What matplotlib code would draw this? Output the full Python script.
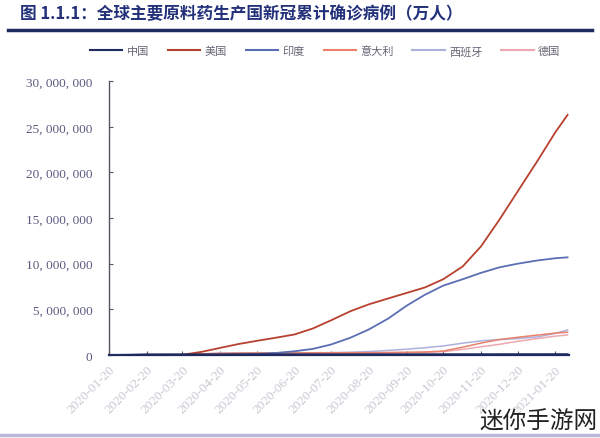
import matplotlib
matplotlib.use("Agg")
import matplotlib.pyplot as plt
import matplotlib.ticker as mticker
import pandas as pd
from matplotlib.lines import Line2D

plt.rcParams['font.family'] = ['Noto Sans CJK SC', 'DejaVu Sans']

dates = ['2020-01-20', '2020-02-05', '2020-02-20', '2020-03-05', '2020-03-20',
         '2020-04-05', '2020-04-20', '2020-05-05', '2020-05-20', '2020-06-05',
         '2020-06-20', '2020-07-05', '2020-07-20', '2020-08-05', '2020-08-20',
         '2020-09-05', '2020-09-20', '2020-10-05', '2020-10-20', '2020-11-05',
         '2020-11-20', '2020-12-05', '2020-12-20', '2021-01-05', '2021-01-20',
         '2021-01-30']

# values in millions
china = [0.0003, 0.028, 0.075, 0.080, 0.081, 0.082, 0.084, 0.084, 0.084, 0.084,
         0.084, 0.085, 0.085, 0.088, 0.089, 0.090, 0.090, 0.091, 0.091, 0.092,
         0.092, 0.093, 0.095, 0.096, 0.098, 0.099]
usa = [0.0, 0.0, 0.0, 0.0, 0.02, 0.35, 0.78, 1.2, 1.55, 1.9,
       2.25, 2.9, 3.8, 4.8, 5.55, 6.2, 6.8, 7.4, 8.3, 9.7,
       11.9, 14.8, 17.9, 21.2, 24.4, 26.3]
india = [0.0, 0.0, 0.0, 0.0, 0.0, 0.003, 0.018, 0.05, 0.11, 0.23,
         0.41, 0.67, 1.15, 1.9, 2.8, 4.0, 5.4, 6.6, 7.6, 8.3,
         9.0, 9.6, 10.0, 10.35, 10.6, 10.7]
italy = [0.0, 0.0, 0.0, 0.004, 0.047, 0.128, 0.181, 0.213, 0.227, 0.234,
         0.238, 0.241, 0.244, 0.248, 0.256, 0.276, 0.298, 0.327, 0.434, 0.862,
         1.31, 1.69, 1.94, 2.18, 2.40, 2.50]
spain = [0.0, 0.0, 0.0, 0.0003, 0.025, 0.130, 0.200, 0.220, 0.232, 0.241,
         0.246, 0.251, 0.265, 0.310, 0.380, 0.500, 0.640, 0.800, 0.990, 1.30,
         1.55, 1.70, 1.80, 1.98, 2.37, 2.74]
germany = [0.0, 0.0, 0.0, 0.0003, 0.020, 0.100, 0.146, 0.167, 0.178, 0.184,
           0.190, 0.197, 0.202, 0.212, 0.230, 0.250, 0.272, 0.300, 0.370, 0.620,
           0.900, 1.17, 1.50, 1.80, 2.07, 2.20]

labels = ['中国', '美国', '印度', '意大利', '西班牙', '德国']
colors = ['#1f2a5e', '#b8402f', '#5b6eb3', '#e8806a', '#aeb0dc', '#eda7b0']
series = [china, usa, india, italy, spain, germany]

tick_dates = ['2020-01-20', '2020-02-20', '2020-03-20', '2020-04-20', '2020-05-20',
              '2020-06-20', '2020-07-20', '2020-08-20', '2020-09-20', '2020-10-20',
              '2020-11-20', '2020-12-20', '2021-01-20']
yticks = [0, 5000000, 10000000, 15000000, 20000000, 25000000, 30000000]

title = '图 1.1.1：全球主要原料药生产国新冠累计确诊病例（万人）'

fig = plt.figure(figsize=(6.0, 4.39), dpi=100)
fig.patch.set_facecolor('white')
ax = fig.add_axes([0.1817, 0.189, 0.948 - 0.1817, 0.624])

x = pd.to_datetime(dates)
order = [5, 4, 3, 2, 1, 0]
for i in order:
    vals = [v * 1e6 for v in series[i]]
    ax.plot(x, vals, color=colors[i], lw=1.3 if i in (1, 2, 0) else 1.1,
            zorder=3 + (6 - i))

ax.set_xlim(pd.Timestamp('2020-01-20'), pd.Timestamp('2021-01-31'))
ax.set_ylim(0, 30000000)
ax.set_yticks(yticks)
ax.yaxis.set_major_formatter(mticker.FuncFormatter(
    lambda v, p: '{:,}'.format(int(v)).replace(',', ', ')))
ax.set_xticks(pd.to_datetime(tick_dates))
ax.set_xticklabels(tick_dates, rotation=45, ha='right', rotation_mode='anchor',
                   fontsize=9.5, color='#c8c8d2', family=['Liberation Serif', 'DejaVu Serif'])
for t in ax.get_yticklabels():
    t.set_fontfamily(['Liberation Serif', 'DejaVu Serif'])
    t.set_fontsize(9.5)
    t.set_color('#5a5a80')

ax.tick_params(axis='both', direction='in', length=3, width=0.8, color='#555566')
ax.tick_params(axis='y', pad=12)
ax.tick_params(axis='x', pad=6)
for s in ['top', 'right']:
    ax.spines[s].set_visible(False)
ax.spines['left'].set_color('#555560')
ax.spines['left'].set_linewidth(1.0)
ax.spines['bottom'].set_color('#1f2a5e')
ax.spines['bottom'].set_linewidth(1.6)
ax.set_facecolor('white')

fig.text(0.033, 1 - 14 / 439, title, fontsize=12, fontweight='bold', color='#23307a',
         va='center', ha='left')
fig.add_artist(Line2D([8 / 600, 592 / 600], [1 - 31 / 439, 1 - 31 / 439],
                      color='#1f2a5e', lw=2.5, transform=fig.transFigure))
fig.add_artist(Line2D([0, 1], [1 - 436 / 439, 1 - 436 / 439],
                      color='#b8b8d8', lw=2.5, transform=fig.transFigure))

handles = [Line2D([], [], color=c, lw=1.5) for c in colors]
leg = fig.legend(handles, labels, loc='center', bbox_to_anchor=(0.542, 1 - 52 / 439),
                 ncol=6, frameon=False, fontsize=8, handlelength=2.9,
                 columnspacing=1.7, handletextpad=0.4)
for t in leg.get_texts():
    t.set_color('#666677')

fig.text(598 / 600, 1 - 422 / 439, '迷你手游网', fontsize=17, color='#222222',
         ha='right', va='center')

fig.savefig('out.png', dpi=100)
